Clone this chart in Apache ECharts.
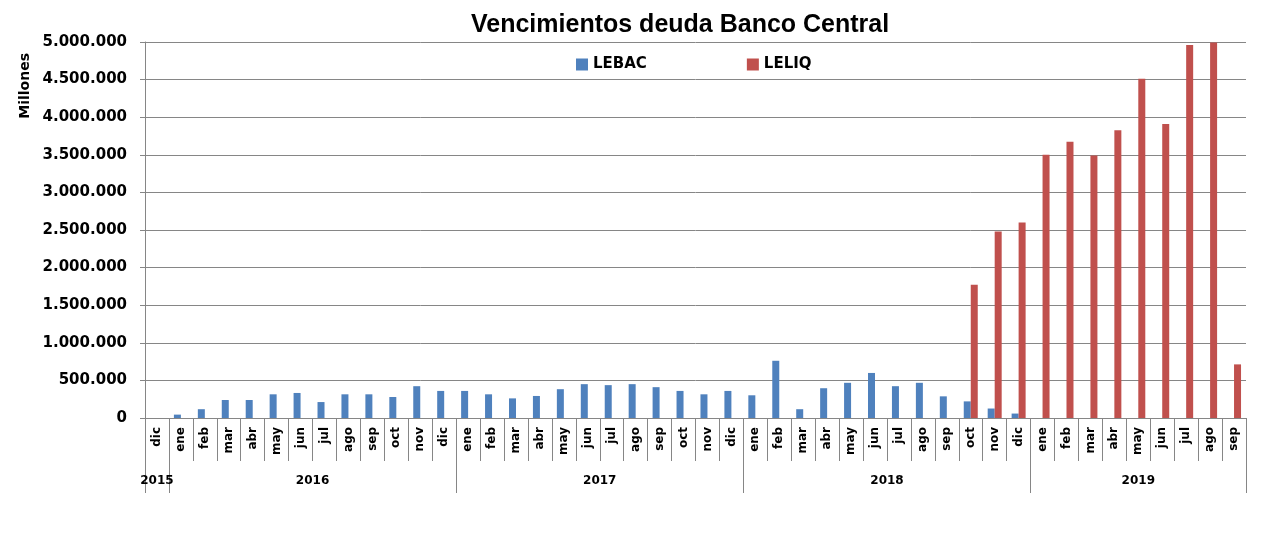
<!DOCTYPE html>
<html>
<head>
<meta charset="utf-8">
<script src="https://cdn.jsdelivr.net/npm/echarts@6/dist/echarts.min.js"></script>
<style>
html,body{margin:0;padding:0;background:#fff;}
#chart{width:1273px;height:541px;}
</style>
</head>
<body>
<div id="chart"></div>
<script>
const months = ['dic',
  'ene','feb','mar','abr','may','jun','jul','ago','sep','oct','nov','dic',
  'ene','feb','mar','abr','may','jun','jul','ago','sep','oct','nov','dic',
  'ene','feb','mar','abr','may','jun','jul','ago','sep','oct','nov','dic',
  'ene','feb','mar','abr','may','jun','jul','ago','sep'];
const years = ['2015','2016','2017','2018','2019'];
const yearSpans = [1, 12, 12, 12, 9];
const lebac = [0,
  45000,117000,239000,239000,315000,333000,212000,315000,315000,279000,423000,360000,
  360000,315000,261000,293000,383000,450000,437000,450000,410000,360000,315000,360000,
  302000,761000,117000,396000,468000,599000,423000,468000,288000,221000,126000,59000,
  null,null,null,null,null,null,null,null,null];
const leliq = [null,
  null,null,null,null,null,null,null,null,null,null,null,null,
  null,null,null,null,null,null,null,null,null,null,null,null,
  null,null,null,null,null,null,null,null,null,1773000,2480000,2600000,
  3500000,3675000,3490000,3825000,4510000,3910000,4960000,4995000,713000];
const yTicks = [0,500000,1000000,1500000,2000000,2500000,3000000,3500000,4000000,4500000,5000000];

// year group boundaries and centres (in month units)
const bounds = [0];
yearSpans.forEach(s => bounds.push(bounds[bounds.length-1] + s));
const centres = years.map((y,i) => (bounds[i] + bounds[i+1]) / 2);
const centreLabel = {};
centres.forEach((c,i) => centreLabel[c] = years[i]);

const fmt = v => String(v).replace(/\B(?=(\d{3})+(?!\d))/g, '.');
const gray = '#868686';
const FF = 'DejaVu Sans';

const chart = echarts.init(document.getElementById('chart'));
chart.setOption({
  animation: false,
  backgroundColor: '#fff',
  title: {
    text: 'Vencimientos deuda Banco Central',
    left: 466, top: 8,
    textStyle: {fontFamily: 'Liberation Sans', fontWeight: 'bold', fontSize: 25, color: '#000'}
  },
  legend: {
    left: 571, top: 52,
    itemWidth: 12, itemHeight: 12, itemGap: 100,
    icon: 'rect',
    textStyle: {fontFamily: FF, fontWeight: 'bold', fontSize: 15, color: '#000'},
    data: ['LEBAC','LELIQ']
  },
  graphic: [{
    type: 'text', left: 18, top: 53, rotation: Math.PI/2,
    style: {text: 'Millones', fontFamily: FF, fontWeight: 'bold', fontSize: 14, fill: '#000'}
  }],
  grid: {left: 145, right: 27, top: 42, bottom: 123, containLabel: false},
  xAxis: [{
    type: 'category', data: months, boundaryGap: true,
    axisLine: {lineStyle: {color: gray, width: 1}},
    axisTick: {show: true, length: 43, interval: 0, lineStyle: {color: gray}},
    axisLabel: {rotate: 90, interval: 0, margin: 9, fontFamily: FF, fontWeight: 'bold', fontSize: 12, color: '#000'},
    splitLine: {show: false}
  }, {
    type: 'value', min: 0, max: bounds[bounds.length-1], position: 'bottom', gridIndex: 0,
    axisLine: {show: false},
    axisTick: {show: true, length: 75, customValues: bounds, lineStyle: {color: gray}},
    axisLabel: {show: true, margin: 57, customValues: centres, formatter: v => centreLabel[v] || '',
      fontFamily: FF, fontWeight: 'bold', fontSize: 12, color: '#000'},
    splitLine: {show: false}
  }],
  yAxis: {
    type: 'value', min: 0, max: 5000000, interval: 500000,
    axisLine: {show: true, lineStyle: {color: gray}},
    axisTick: {show: true, length: 5, lineStyle: {color: gray}},
    axisLabel: {margin: 18, formatter: v => fmt(v), fontFamily: FF, fontWeight: 'bold', fontSize: 15, color: '#000'},
    splitLine: {show: true, lineStyle: {color: gray, width: 1}}
  },
  series: [{
    name: 'LEBAC', type: 'bar', data: lebac, xAxisIndex: 0,
    barWidth: 7, barGap: '0%',
    itemStyle: {color: '#4F81BD'}
  }, {
    name: 'LELIQ', type: 'bar', data: leliq, xAxisIndex: 0,
    barWidth: 7, barGap: '0%',
    itemStyle: {color: '#C0504D'}
  }]
});
</script>
</body>
</html>
